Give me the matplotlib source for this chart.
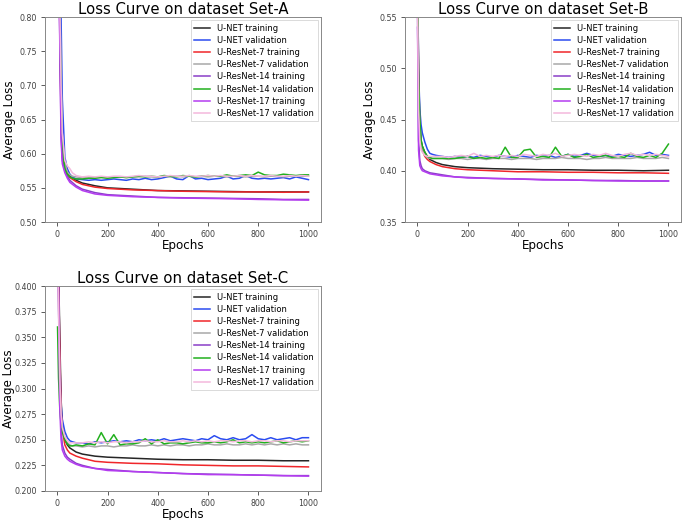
import matplotlib
matplotlib.use("Agg")
import matplotlib.pyplot as plt

train_epochs = [1, 5, 10, 15, 20, 30, 40, 50, 75, 100, 150, 200, 300, 400,
                500, 600, 700, 800, 900, 1000]
val_epochs = [1, 5, 10, 15, 20, 30, 40, 50, 60, 75,
              100, 125, 150, 175, 200, 225, 250, 275, 300, 325, 350, 375,
              400, 425, 450, 475, 500, 525, 550, 575, 600, 625, 650, 675,
              700, 725, 750, 775, 800, 825, 850, 875, 900, 925, 950, 975, 1000]

labels = ["U-NET training", "U-NET validation", "U-ResNet-7 training",
          "U-ResNet-7 validation", "U-ResNet-14 training", "U-ResNet-14 validation",
          "U-ResNet-17 training", "U-ResNet-17 validation"]
colors = ["#262626", "#2b4cf0", "#f0262a", "#a8a8a8",
          "#8a3fc8", "#22b01e", "#b43cf0", "#f4b8dc"]

# ---- Set-A ----
a_unet_train = [1.00, 0.93, 0.80, 0.66, 0.60, 0.580, 0.572, 0.567, 0.561, 0.557,
                0.553, 0.550, 0.548, 0.546, 0.5455, 0.545, 0.5445, 0.544, 0.544, 0.544]
a_r7_train = [1.00, 0.92, 0.79, 0.65, 0.595, 0.578, 0.570, 0.565, 0.559, 0.555,
              0.551, 0.549, 0.547, 0.546, 0.545, 0.5445, 0.544, 0.544, 0.5435, 0.544]
a_r14_train = [0.98, 0.90, 0.77, 0.63, 0.59, 0.575, 0.567, 0.561, 0.553, 0.548,
               0.543, 0.540, 0.538, 0.536, 0.5355, 0.535, 0.5345, 0.534, 0.533, 0.533]
a_r17_train = [0.97, 0.89, 0.76, 0.62, 0.585, 0.572, 0.564, 0.558, 0.551, 0.546,
               0.541, 0.539, 0.537, 0.536, 0.535, 0.5345, 0.534, 0.533, 0.5325, 0.532]
a_unet_val = [1.00, 0.95, 0.88, 0.80, 0.68, 0.595, 0.578, 0.570, 0.566, 0.563,
              0.562, 0.561, 0.562, 0.561, 0.562, 0.563, 0.562, 0.561, 0.563, 0.562,
              0.564, 0.562, 0.563, 0.565, 0.567, 0.563, 0.562, 0.568, 0.563, 0.564,
              0.562, 0.563, 0.564, 0.567, 0.563, 0.564, 0.568, 0.564, 0.563, 0.564,
              0.563, 0.564, 0.565, 0.563, 0.566, 0.564, 0.562]
a_r7_val = [0.98, 0.92, 0.84, 0.72, 0.63, 0.585, 0.573, 0.569, 0.567, 0.566,
            0.565, 0.566, 0.565, 0.566, 0.565, 0.566, 0.566, 0.565, 0.566, 0.566,
            0.567, 0.566, 0.566, 0.567, 0.566, 0.567, 0.566, 0.567, 0.566, 0.567,
            0.566, 0.567, 0.567, 0.566, 0.567, 0.567, 0.566, 0.567, 0.567, 0.566,
            0.567, 0.567, 0.566, 0.567, 0.567, 0.567, 0.567]
a_r14_val = [0.96, 0.90, 0.80, 0.68, 0.61, 0.578, 0.570, 0.566, 0.564, 0.563,
             0.563, 0.564, 0.564, 0.565, 0.564, 0.565, 0.566, 0.565, 0.566, 0.567,
             0.566, 0.567, 0.566, 0.568, 0.567, 0.566, 0.568, 0.567, 0.566, 0.567,
             0.568, 0.567, 0.567, 0.569, 0.567, 0.568, 0.569, 0.568, 0.573, 0.569,
             0.568, 0.568, 0.570, 0.569, 0.568, 0.569, 0.569]
a_r17_val = [0.97, 0.90, 0.82, 0.70, 0.63, 0.590, 0.582, 0.578, 0.572, 0.568,
             0.566, 0.567, 0.566, 0.567, 0.566, 0.567, 0.567, 0.566, 0.567, 0.568,
             0.567, 0.567, 0.566, 0.567, 0.568, 0.567, 0.567, 0.568, 0.567, 0.567,
             0.568, 0.567, 0.568, 0.567, 0.567, 0.568, 0.567, 0.568, 0.567, 0.567,
             0.568, 0.567, 0.567, 0.568, 0.567, 0.568, 0.567]

# ---- Set-B ----
b_unet_train = [0.60, 0.50, 0.45, 0.43, 0.424, 0.418, 0.414, 0.411, 0.408, 0.406,
                0.404, 0.403, 0.402, 0.4015, 0.401, 0.401, 0.4005, 0.4005, 0.400, 0.4005]
b_r7_train = [0.60, 0.49, 0.44, 0.425, 0.420, 0.414, 0.411, 0.409, 0.406, 0.404,
              0.402, 0.401, 0.400, 0.399, 0.399, 0.3985, 0.3985, 0.398, 0.398, 0.3975]
b_r14_train = [0.55, 0.43, 0.41, 0.405, 0.402, 0.400, 0.399, 0.398, 0.397, 0.396,
               0.394, 0.3935, 0.3925, 0.392, 0.3915, 0.391, 0.3905, 0.3905, 0.390, 0.390]
b_r17_train = [0.54, 0.42, 0.405, 0.402, 0.400, 0.399, 0.398, 0.397, 0.396, 0.395,
               0.394, 0.393, 0.3925, 0.392, 0.391, 0.391, 0.3905, 0.390, 0.390, 0.390]
b_unet_val = [0.60, 0.50, 0.46, 0.445, 0.437, 0.428, 0.421, 0.417, 0.416, 0.415,
              0.414, 0.413, 0.414, 0.413, 0.414, 0.413, 0.415, 0.414, 0.413, 0.415,
              0.414, 0.413, 0.415, 0.414, 0.413, 0.415, 0.414, 0.415, 0.413, 0.414,
              0.416, 0.414, 0.415, 0.417, 0.415, 0.414, 0.415, 0.414, 0.416, 0.415,
              0.414, 0.415, 0.416, 0.418, 0.415, 0.416, 0.415]
b_r7_val = [0.58, 0.48, 0.44, 0.425, 0.420, 0.415, 0.413, 0.412, 0.412, 0.412,
            0.412, 0.411, 0.412, 0.412, 0.411, 0.412, 0.412, 0.411, 0.412, 0.412,
            0.412, 0.411, 0.412, 0.412, 0.412, 0.411, 0.412, 0.412, 0.412, 0.413,
            0.412, 0.412, 0.412, 0.411, 0.412, 0.412, 0.413, 0.412, 0.412, 0.412,
            0.412, 0.413, 0.412, 0.412, 0.412, 0.413, 0.412]
b_r14_val = [0.58, 0.49, 0.45, 0.430, 0.424, 0.418, 0.414, 0.413, 0.412, 0.412,
             0.412, 0.412, 0.412, 0.413, 0.414, 0.412, 0.413, 0.412, 0.413, 0.412,
             0.423, 0.413, 0.413, 0.420, 0.421, 0.413, 0.414, 0.413, 0.423, 0.414,
             0.416, 0.413, 0.414, 0.416, 0.413, 0.414, 0.415, 0.413, 0.414, 0.413,
             0.417, 0.414, 0.413, 0.415, 0.413, 0.417, 0.426]
b_r17_val = [0.56, 0.46, 0.43, 0.420, 0.418, 0.415, 0.414, 0.414, 0.414, 0.414,
             0.414, 0.413, 0.414, 0.415, 0.414, 0.417, 0.414, 0.415, 0.414, 0.415,
             0.414, 0.415, 0.414, 0.416, 0.415, 0.414, 0.416, 0.415, 0.417, 0.414,
             0.415, 0.416, 0.415, 0.414, 0.416, 0.415, 0.417, 0.415, 0.414, 0.416,
             0.417, 0.415, 0.416, 0.415, 0.416, 0.415, 0.414]

# ---- Set-C ----
c_unet_train = [0.50, 0.42, 0.35, 0.29, 0.265, 0.250, 0.245, 0.242, 0.238, 0.236,
                0.234, 0.233, 0.232, 0.231, 0.2305, 0.2305, 0.230, 0.230, 0.2295, 0.2295]
c_r7_train = [0.50, 0.41, 0.34, 0.28, 0.260, 0.245, 0.240, 0.237, 0.234, 0.232,
              0.229, 0.228, 0.227, 0.2265, 0.2255, 0.225, 0.2245, 0.2245, 0.224, 0.2235]
c_r14_train = [0.48, 0.40, 0.30, 0.26, 0.245, 0.237, 0.233, 0.231, 0.227, 0.225,
               0.222, 0.221, 0.219, 0.218, 0.217, 0.2165, 0.216, 0.2155, 0.215, 0.215]
c_r17_train = [0.47, 0.38, 0.28, 0.25, 0.240, 0.234, 0.231, 0.229, 0.226, 0.224,
               0.222, 0.220, 0.219, 0.218, 0.217, 0.216, 0.216, 0.2155, 0.215, 0.2145]
c_unet_val = [0.50, 0.42, 0.33, 0.285, 0.270, 0.258, 0.252, 0.249, 0.248, 0.247,
              0.247, 0.246, 0.248, 0.247, 0.248, 0.249, 0.248, 0.249, 0.248, 0.250,
              0.249, 0.250, 0.249, 0.251, 0.249, 0.250, 0.251, 0.250, 0.249, 0.251,
              0.250, 0.254, 0.251, 0.250, 0.252, 0.250, 0.251, 0.255, 0.251, 0.250,
              0.252, 0.250, 0.251, 0.252, 0.250, 0.252, 0.252]
c_r7_val = [0.45, 0.38, 0.31, 0.275, 0.262, 0.252, 0.247, 0.245, 0.244, 0.244,
            0.243, 0.244, 0.243, 0.244, 0.244, 0.243, 0.244, 0.244, 0.245, 0.244,
            0.244, 0.245, 0.244, 0.245, 0.244, 0.245, 0.245, 0.244, 0.245, 0.245,
            0.246, 0.245, 0.245, 0.246, 0.245, 0.245, 0.246, 0.245, 0.246, 0.245,
            0.246, 0.245, 0.246, 0.245, 0.246, 0.245, 0.245]
c_r14_val = [0.36, 0.31, 0.28, 0.265, 0.258, 0.250, 0.246, 0.244, 0.244, 0.245,
             0.244, 0.246, 0.245, 0.257, 0.246, 0.255, 0.245, 0.246, 0.246, 0.247,
             0.251, 0.246, 0.250, 0.246, 0.247, 0.247, 0.246, 0.247, 0.248, 0.247,
             0.247, 0.248, 0.247, 0.248, 0.250, 0.247, 0.248, 0.247, 0.248, 0.247,
             0.248, 0.249, 0.247, 0.248, 0.249, 0.248, 0.249]
c_r17_val = [0.45, 0.38, 0.31, 0.275, 0.262, 0.253, 0.249, 0.247, 0.247, 0.247,
             0.247, 0.248, 0.247, 0.248, 0.247, 0.248, 0.248, 0.247, 0.248, 0.248,
             0.249, 0.248, 0.248, 0.249, 0.248, 0.248, 0.249, 0.248, 0.249, 0.248,
             0.249, 0.248, 0.249, 0.249, 0.248, 0.249, 0.249, 0.248, 0.249, 0.249,
             0.248, 0.249, 0.249, 0.248, 0.249, 0.249, 0.249]

panels = [
    ("Loss Curve on dataset Set-A", (0.50, 0.80), [0.50, 0.55, 0.60, 0.65, 0.70, 0.75, 0.80],
     [a_unet_train, a_unet_val, a_r7_train, a_r7_val, a_r14_train, a_r14_val, a_r17_train, a_r17_val],
     [45, 222], -0.105),
    ("Loss Curve on dataset Set-B", (0.35, 0.55), [0.35, 0.40, 0.45, 0.50, 0.55],
     [b_unet_train, b_unet_val, b_r7_train, b_r7_val, b_r14_train, b_r14_val, b_r17_train, b_r17_val],
     [405, 222], -0.105),
    ("Loss Curve on dataset Set-C", (0.20, 0.40),
     [0.200, 0.225, 0.250, 0.275, 0.300, 0.325, 0.350, 0.375, 0.400],
     [c_unet_train, c_unet_val, c_r7_train, c_r7_val, c_r14_train, c_r14_val, c_r17_train, c_r17_val],
     [45, 491], -0.11),
]

W, H = 685, 520
fig = plt.figure(figsize=(W / 100, H / 100), dpi=100)

for title, ylim, yticks, series, (left_px, bottom_px), ylab_x in panels:
    ax = fig.add_axes([left_px / W, (H - bottom_px) / H, 276 / W, 205 / H])
    for i, vals in enumerate(series):
        xs = train_epochs if "training" in labels[i] else val_epochs
        ax.plot(xs, vals, color=colors[i], lw=1.1, label=labels[i])
    ax.set_ylim(*ylim)
    ax.set_yticks(yticks)
    ax.set_xticks([0, 200, 400, 600, 800, 1000])
    fmt = "%.3f" if len(yticks) > 7 else "%.2f"
    ax.set_yticklabels([fmt % t for t in yticks])
    ax.tick_params(labelsize=5.7, colors="#404040", length=3, width=0.6, pad=2.6)
    for s in ax.spines.values():
        s.set_color("#888888")
        s.set_linewidth(0.7)
    ax.set_title(title, fontsize=10.7, pad=2)
    ax.set_xlabel("Epochs", fontsize=8.6, labelpad=0)
    ax.set_ylabel("Average Loss", fontsize=8.6)
    ax.yaxis.set_label_coords(ylab_x, 0.5)
    leg = ax.legend(loc="upper right", fontsize=6.0, framealpha=1,
                    borderpad=0.4, labelspacing=0.38, handlelength=1.9,
                    handletextpad=0.9, borderaxespad=0.4, fancybox=False)
    leg.get_frame().set_linewidth(0.5)

fig.savefig("out.png", dpi=100)
